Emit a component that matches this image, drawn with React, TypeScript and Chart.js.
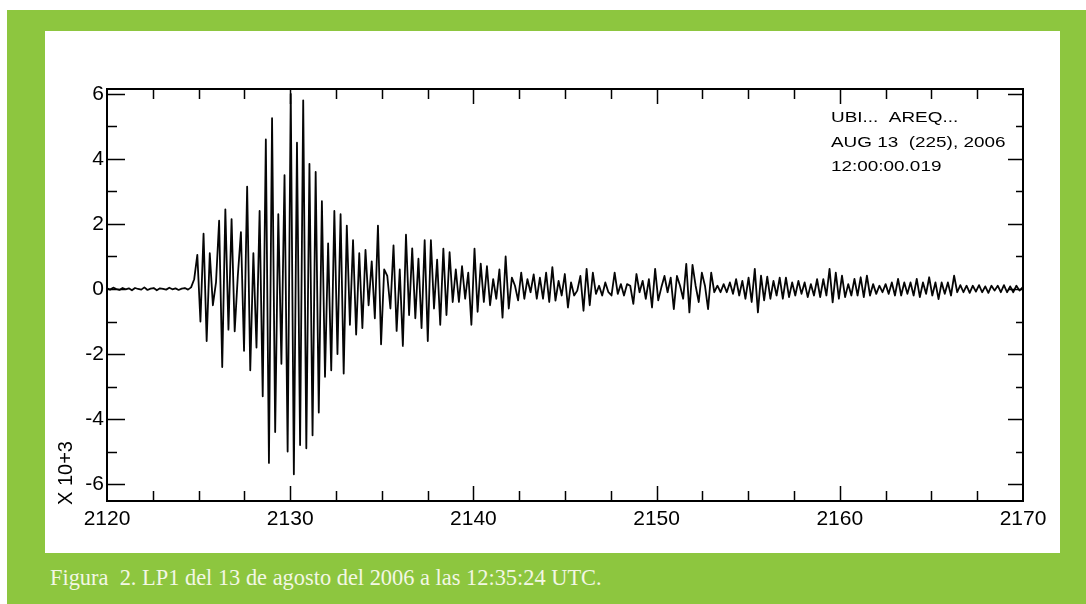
import React, { useEffect, useRef } from 'react';
import { Chart, registerables } from 'chart.js';

Chart.register(...registerables);

// ---- data ----
const xRange = [2120, 2170];
const xLabelTicks = [2120, 2130, 2140, 2150, 2160, 2170];
const xMinorTicks = [2122.5, 2125, 2127.5, 2130, 2132.5, 2135, 2137.5, 2140, 2142.5, 2145, 2147.5, 2150, 2152.5, 2155, 2157.5, 2160, 2162.5, 2165, 2167.5];
const yRange = [-6.52, 6.15];
const yLabelTicks = [-6, -4, -2, 0, 2, 4, 6];
const yMinorTicks = [-5, -3, -1, 1, 3, 5];
const yUnitLabel = 'X 10+3';
const annotationLines = ['UBI...  AREQ...', 'AUG 13  (225), 2006', '12:00:00.019'];
const caption = 'Figura  2. LP1 del 13 de agosto del 2006 a las 12:35:24 UTC.';

// seismogram samples (x 10^3 counts), first sample at traceStart seconds, spaced traceStep
const traceStart = 2120;
const traceStep = 0.17;
const traceValues = [
  0.02, -0.02, 0.04, 0.0, -0.03, 0.03, -0.01, 0.02, -0.04, 0.03,
  0.0, -0.02, 0.05, -0.03, 0.01, 0.03, -0.04, 0.02, 0.0, -0.02,
  0.04, -0.01, 0.02, -0.03, 0.01, 0.03, -0.02, 0.05, 0.3, 1.05,
  -1.0, 1.7, -1.6, 1.1, -0.5, 0.2, 2.1, -2.4, 2.45, -1.25,
  2.15, -1.3, 0.4, 1.75, -1.9, 3.15, -2.5, 1.1, -1.8, 2.4,
  -3.3, 4.6, -5.35, 5.25, -4.4, 2.3, -2.3, 3.5, -5.0, 6.0,
  -5.7, 4.5, -4.8, 5.8, -4.9, 3.85, -4.5, 3.6, -3.8, 2.7,
  -2.7, 1.4, -2.5, 2.4, -2.0, 2.3, -2.6, 1.95, -1.1, 1.5,
  -1.4, 1.1, -1.2, 1.2, -0.5, 0.85, -0.9, 1.95, -1.7, 0.6,
  0.4, -0.6, 1.34, -1.29, 0.6, -1.75, 1.67, -0.8, 1.25, -0.9,
  0.93, -1.2, 1.5, -1.6, 1.5, -0.6, 0.9, -1.1, 1.24, -0.8,
  1.13, -0.4, 0.6, -0.4, 0.7, -0.3, 0.5, -1.1, 1.24, -0.7,
  0.78, -0.4, 0.7, -0.5, 0.3, -0.3, 0.6, -0.88, 1.0, -0.6,
  0.35, 0.1, -0.35, 0.5, -0.3, 0.3, -0.1, 0.45, -0.3, 0.35,
  -0.3, 0.5, -0.4, 0.67, -0.36, 0.25, -0.2, 0.46, -0.57, 0.2,
  -0.2, -0.05, 0.4, -0.67, 0.62, -0.5, 0.5, -0.15, 0.1, -0.2,
  0.2, -0.1, -0.2, 0.5, -0.15, 0.15, -0.2, 0.15, 0.1, -0.46,
  0.46, -0.1, 0.25, -0.3, 0.3, -0.57, 0.62, -0.35, 0.05, 0.4,
  -0.1, 0.35, -0.62, 0.4, 0.1, -0.3, 0.77, -0.72, 0.74, 0.1,
  -0.4, 0.5, 0.1, -0.62, 0.5, -0.1, 0.1, -0.1, 0.15, -0.1,
  0.2, -0.15, 0.3, -0.2, 0.25, -0.3, 0.35, -0.4, 0.62, -0.72,
  0.41, -0.35, 0.38, -0.3, 0.25, -0.2, 0.35, -0.3, 0.35, -0.25,
  0.2, -0.2, 0.25, -0.15, 0.2, -0.25, 0.15, -0.2, 0.3, -0.25,
  0.3, -0.2, 0.62, -0.41, 0.5, -0.3, 0.41, -0.25, 0.15, -0.2,
  0.31, -0.2, 0.36, -0.25, 0.41, -0.2, 0.15, -0.15, 0.1, -0.1,
  0.15, -0.15, 0.2, -0.2, 0.31, -0.2, 0.2, -0.15, 0.2, -0.2,
  0.31, -0.25, 0.2, -0.15, 0.36, -0.2, 0.2, -0.31, 0.2, -0.15,
  0.2, -0.2, 0.41, -0.1, 0.12, -0.1, 0.1, -0.12, 0.1, -0.08,
  0.12, -0.1, 0.08, -0.12, 0.1, -0.05, 0.1, -0.1, 0.12, -0.1,
  0.08, -0.1, 0.1, -0.05, 0.05,
];

const GREEN = '#8dc63f';
const SANS = '"Liberation Sans", Arial, Helvetica, sans-serif';

const framePlugin = {
  id: 'seisFrame',
  afterDatasetsDraw(chart: any) {
    const { ctx, chartArea: a, scales } = chart;
    const x = scales.x;
    const y = scales.y;
    ctx.save();
    ctx.strokeStyle = '#000';
    ctx.lineWidth = 1.5;
    ctx.beginPath();
    for (const t of xMinorTicks) {
      const px = Math.round(x.getPixelForValue(t)) + 0.5;
      const major = xLabelTicks.includes(t);
      const len = major ? 15 : 10;
      ctx.moveTo(px, a.bottom);
      ctx.lineTo(px, a.bottom - len);
      ctx.moveTo(px, a.top);
      ctx.lineTo(px, a.top + len);
    }
    for (const v of yLabelTicks) {
      const py = Math.round(y.getPixelForValue(v)) + 0.5;
      ctx.moveTo(a.left, py);
      ctx.lineTo(a.left + 18, py);
      ctx.moveTo(a.right, py);
      ctx.lineTo(a.right - 15, py);
    }
    for (const v of yMinorTicks) {
      const py = Math.round(y.getPixelForValue(v)) + 0.5;
      ctx.moveTo(a.left, py);
      ctx.lineTo(a.left + 10, py);
      ctx.moveTo(a.right, py);
      ctx.lineTo(a.right - 7, py);
    }
    ctx.stroke();
    ctx.lineWidth = 2;
    ctx.strokeRect(a.left, a.top, a.right - a.left, a.bottom - a.top);

    // station annotation (horizontally stretched sans)
    ctx.fillStyle = '#000';
    ctx.font = '15.5px ' + SANS;
    ctx.textAlign = 'left';
    ctx.textBaseline = 'alphabetic';
    const ax = a.right - 192;
    const baselines = [a.top + 33, a.top + 58, a.top + 82];
    annotationLines.forEach((line, i) => {
      ctx.save();
      ctx.translate(ax, baselines[i]);
      ctx.scale(1.22, 1);
      ctx.fillText(line, 0, 0);
      ctx.restore();
    });

    // unit label, rotated
    ctx.save();
    ctx.font = '20px ' + SANS;
    ctx.translate(a.left - 41, a.bottom + 4);
    ctx.rotate(-Math.PI / 2);
    ctx.textBaseline = 'middle';
    ctx.fillText(yUnitLabel, 0, 0);
    ctx.restore();
    ctx.restore();
  },
};

export default function App() {
  const ref = useRef<HTMLCanvasElement | null>(null);

  useEffect(() => {
    if (!ref.current) return;
    const points = traceValues.map((v, i) => ({ x: traceStart + i * traceStep, y: v }));
    const chart = new Chart(ref.current, {
      type: 'line',
      data: {
        datasets: [
          {
            data: points,
            borderColor: '#050505',
            borderWidth: 1.8,
            borderJoinStyle: 'round',
            pointRadius: 0,
            tension: 0,
            fill: false,
          },
        ],
      },
      options: {
        animation: false,
        responsive: false,
        devicePixelRatio: 1,
        events: [],
        layout: { padding: { top: 58, right: 37, left: 0, bottom: 0 } },
        plugins: { legend: { display: false }, tooltip: { enabled: false } },
        scales: {
          x: {
            type: 'linear',
            min: xRange[0],
            max: xRange[1],
            afterBuildTicks: (s: any) => {
              s.ticks = xLabelTicks.map((v) => ({ value: v }));
            },
            afterFit: (s: any) => {
              s.height = 52;
            },
            grid: { display: false, drawTicks: false },
            border: { display: false },
            ticks: {
              color: '#000',
              padding: 6,
              autoSkip: false,
              maxRotation: 0,
              font: { family: SANS, size: 21 },
              callback: (v: any) => String(v),
            },
          },
          y: {
            type: 'linear',
            min: yRange[0],
            max: yRange[1],
            afterBuildTicks: (s: any) => {
              s.ticks = yLabelTicks.map((v) => ({ value: v }));
            },
            afterFit: (s: any) => {
              s.width = 62;
            },
            grid: { display: false, drawTicks: false },
            border: { display: false },
            ticks: {
              color: '#000',
              padding: 3,
              autoSkip: false,
              font: { family: SANS, size: 21 },
              callback: (v: any) => String(v),
            },
          },
        },
      },
      plugins: [framePlugin],
    } as any);
    return () => chart.destroy();
  }, []);

  return (
    <div style={{ position: 'fixed', left: 0, top: 0, width: 1086, height: 604, background: '#fff', overflow: 'hidden' }}>
      <div style={{ position: 'absolute', left: 7, top: 10, width: 1079, height: 594, background: GREEN }} />
      <div style={{ position: 'absolute', left: 45, top: 31, width: 1015, height: 522, background: '#fff' }}>
        <canvas ref={ref} width={1015} height={522} style={{ display: 'block', width: 1015, height: 522 }} />
      </div>
      <div
        style={{
          position: 'absolute',
          left: 50,
          top: 565,
          color: '#f3f7e4',
          fontFamily: '"Liberation Serif", "Times New Roman", serif',
          fontSize: 22.4,
          whiteSpace: 'pre',
        }}
      >
        {caption}
      </div>
    </div>
  );
}
